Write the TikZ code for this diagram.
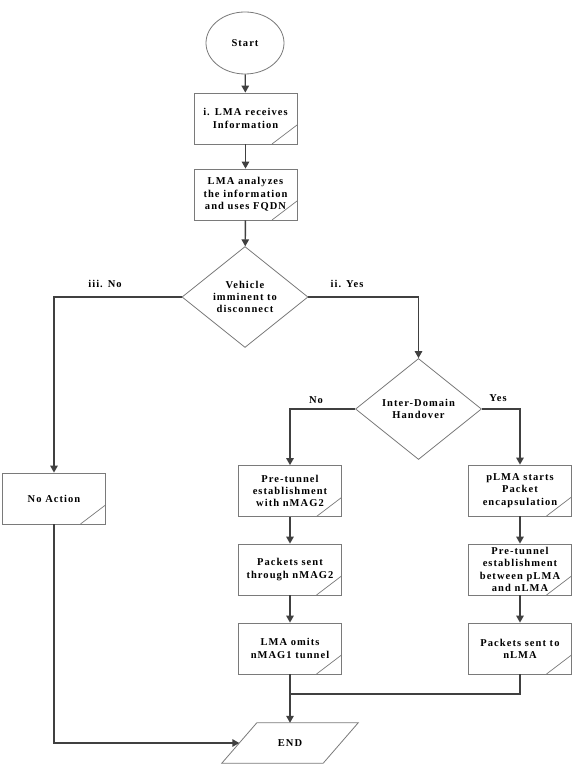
\documentclass[tikz,border=0pt]{standalone}
\usepackage{fontspec}
\setmainfont{Liberation Serif}[LetterSpace=10]
\usetikzlibrary{shapes.geometric,arrows.meta}
\definecolor{linec}{HTML}{404040}
\definecolor{boxc}{HTML}{7A7A7A}
\begin{document}
\begin{tikzpicture}[x=1pt,y=-1pt,
  txt/.style={font=\fontsize{10.5}{12.3}\selectfont\bfseries, text=black},
  proc/.style={txt, draw=boxc, line width=0.8pt, minimum width=103pt, minimum height=51pt,
    align=center, inner sep=1pt,
    path picture={\draw[boxc, line width=0.7pt] ([xshift=-25pt]path picture bounding box.south east) -- ([yshift=19pt]path picture bounding box.south east);}},
  dec/.style={txt, draw=boxc, line width=0.8pt, shape=diamond, inner sep=-20pt,
    minimum width=126pt, minimum height=101pt, align=center},
  conn/.style={draw=linec, line width=1.4pt},
  arr/.style={conn, -{Triangle[length=7pt,width=7.5pt]}},
  outl/.style={draw=boxc, line width=0.8pt},
  lab/.style={txt}]
\useasboundingbox (0,0) rectangle (580,773);
\fill[white] (0,0) rectangle (580,773);

\node[txt, outl, ellipse, minimum width=78pt, minimum height=62pt, inner sep=0pt] (start) at (245,43) {Start};
\node[proc] (b1) at (245.5,118.5) {i. LMA receives\\Information};
\node[proc] (b2) at (245.5,194.5) {LMA analyzes\\the information\\and uses FQDN};
\node[dec] (d1) at (245,297) {Vehicle\\imminent to\\disconnect};
\node[dec] (d2) at (418.5,409) {Inter-Domain\\Handover};
\node[proc] (l1) at (290,491) {Pre-tunnel\\establishment\\with nMAG2};
\node[proc] (l2) at (290,569.5) {Packets sent\\through nMAG2};
\node[proc] (l3) at (290,648.5) {LMA omits\\nMAG1 tunnel};
\node[proc] (r1) at (520,490.5) {pLMA starts\\Packet\\encapsulation};
\node[proc] (r2) at (520,569.5) {Pre-tunnel\\establishment\\between pLMA\\and nLMA};
\node[proc] (r3) at (520,648.5) {Packets sent to\\nLMA};
\node[proc] (na) at (54,498.5) {No Action};
\node[txt, minimum width=101pt, minimum height=40pt, inner sep=1pt] (end) at (290,743) {END};
\draw[outl] ([xshift=17.5pt]end.north west) -- ([xshift=17.5pt]end.north east)
  -- ([xshift=-17.5pt]end.south east) -- ([xshift=-17.5pt]end.south west) -- cycle;
\coordinate (join) at (290,694);

\node[lab] (lno) at (105,284) {iii. No};
\node[lab] (lyes) at (347,284) {ii. Yes};
\node[lab] (lno2) at (316,400) {No};
\node[lab] (lyes2) at (498,398) {Yes};

\draw[arr] (start) -- (b1);
\draw[arr] (b1) -- (b2);
\draw[arr] (b2) -- (d1);
\draw[arr] (d1.west) -| (na.north);
\draw[arr] (d1.east) -| (d2.north);
\draw[arr] (d2.west) -| (l1.north);
\draw[arr] (d2.east) -| (r1.north);
\draw[arr] (l1) -- (l2);
\draw[arr] (l2) -- (l3);
\draw[arr] (r1) -- (r2);
\draw[arr] (r2) -- (r3);
\draw[conn] (r3.south) |- (join);
\draw[arr] (l3.south) -- (end.north);
\draw[arr] (na.south) |- (end.west);
\end{tikzpicture}
\end{document}
